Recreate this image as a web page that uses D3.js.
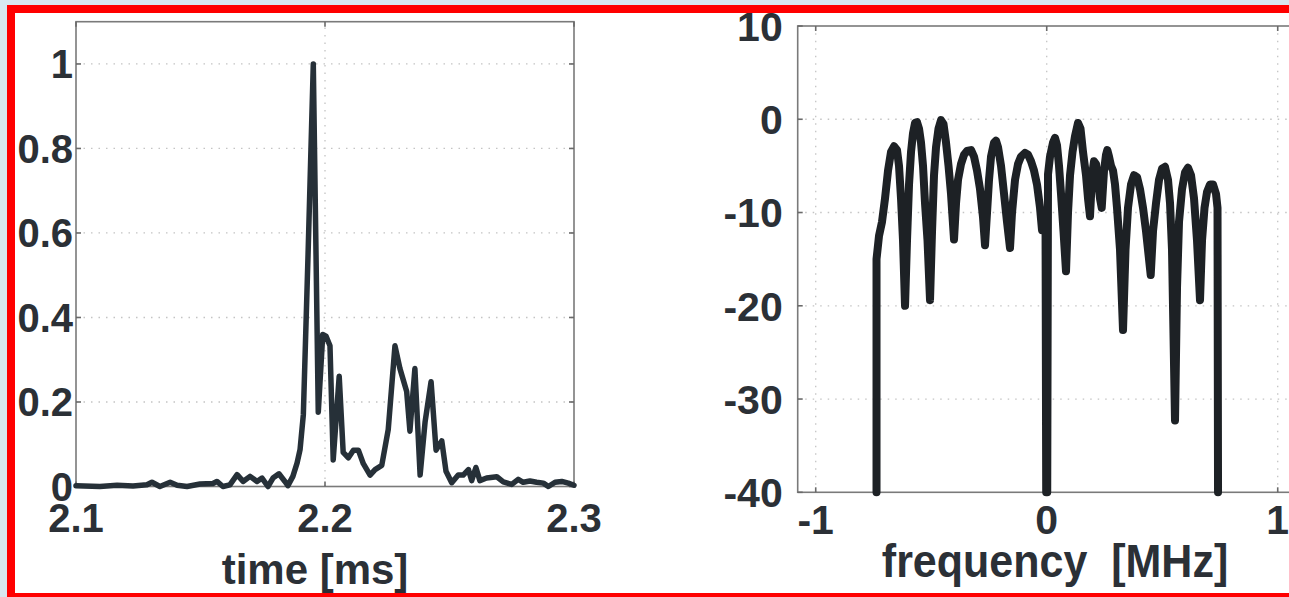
<!DOCTYPE html>
<html>
<head>
<meta charset="utf-8">
<script src="https://cdn.jsdelivr.net/npm/d3@7"></script>
<style>
  html, body { margin: 0; padding: 0; background: #d8e8f0; }
  svg { display: block; }
  text { font-family: "Liberation Sans", Arial, sans-serif; font-weight: bold; fill: #2b3036; }
</style>
</head>
<body>
<svg id="chart" width="1289" height="597"></svg>
<script>
// ---------- data ----------
const timeMs = [2.1000,2.1096,2.1165,2.1229,2.1285,2.1305,2.1337,2.1378,2.1406,2.1446,2.1498,2.1550,2.1566,2.1590,2.1618,2.1647,2.1671,2.1699,2.1727,2.1747,2.1771,2.1791,2.1815,2.1839,2.1851,2.1871,2.1888,2.1900,2.1913,2.1932,2.1953,2.1973,2.1991,2.2004,2.2020,2.2033,2.2057,2.2073,2.2094,2.2114,2.2134,2.2154,2.2181,2.2201,2.2228,2.2254,2.2281,2.2301,2.2328,2.2341,2.2361,2.2382,2.2402,2.2426,2.2446,2.2469,2.2486,2.2509,2.2535,2.2555,2.2576,2.2589,2.2606,2.2622,2.2649,2.2690,2.2716,2.2750,2.2776,2.2796,2.2823,2.2850,2.2877,2.2897,2.2924,2.2951,2.2977,2.3000];
const amplitude = [0.002,0.000,0.003,0.001,0.004,0.010,0.000,0.010,0.003,0.000,0.006,0.007,0.012,0.000,0.004,0.028,0.012,0.024,0.012,0.020,0.000,0.020,0.030,0.012,0.002,0.024,0.056,0.088,0.170,0.550,1.000,0.176,0.360,0.356,0.333,0.063,0.261,0.081,0.068,0.086,0.086,0.054,0.027,0.040,0.050,0.135,0.333,0.279,0.225,0.131,0.279,0.027,0.153,0.248,0.086,0.108,0.036,0.009,0.027,0.027,0.040,0.014,0.045,0.014,0.020,0.023,0.011,0.005,0.017,0.010,0.013,0.010,0.008,0.000,0.010,0.012,0.008,0.003];

const freqMHz = [
  -0.7368,-0.7368,-0.7260,-0.7130,-0.7000,-0.6870,-0.6740,-0.6610,-0.6481,-0.6394,-0.6307,-0.6221,-0.6134,
  -0.6048,-0.5961,-0.5874,-0.5788,-0.5701,-0.5615,-0.5528,-0.5442,-0.5355,-0.5268,-0.5160,-0.5052,
  -0.4965,-0.4879,-0.4792,-0.4684,-0.4576,-0.4468,-0.4359,-0.4251,-0.4143,-0.4013,
  -0.3926,-0.3840,-0.3710,-0.3580,-0.3450,-0.3277,-0.3147,-0.3017,-0.2887,-0.2758,-0.2671,
  -0.2584,-0.2498,-0.2411,-0.2281,-0.2195,-0.2108,-0.1978,-0.1848,-0.1719,-0.1589,
  -0.1502,-0.1372,-0.1242,-0.1113,-0.0939,-0.0810,-0.0680,-0.0550,-0.0420,-0.0290,-0.0203,-0.0052,
  -0.0022,0.0022,
  0.0056,0.0143,0.0273,0.0359,0.0446,0.0532,0.0619,0.0727,0.0835,
  0.0922,0.1009,0.1117,0.1225,0.1355,0.1463,0.1571,0.1701,0.1788,0.1874,
  0.1961,0.2048,0.2134,0.2221,0.2307,0.2381,
  0.2481,0.2567,0.2623,0.2697,0.2784,0.2870,0.2957,0.3043,0.3173,0.3303,
  0.3411,0.3519,0.3649,0.3779,0.3909,0.4039,0.4169,0.4299,0.4502,
  0.4602,0.4732,0.4861,0.4991,0.5121,0.5251,0.5338,0.5424,0.5554,
  0.5641,0.5727,0.5857,0.5987,0.6117,0.6247,0.6377,0.6506,0.6636,
  0.6723,0.6831,0.6939,0.7069,0.7199,0.7329,0.7394,0.7416];
const spectrumDb = [
  -40,-15,-12.5,-11,-8.5,-5.5,-3.5,-2.9,-3.3,-5,-8.5,-13,-20,
  -13,-7,-3.5,-1.5,-0.4,-0.3,-1,-2.5,-5,-9,-13,-19.4,
  -12,-6,-3,-1,-0.1,-0.5,-2.5,-5,-8,-12.9,
  -9,-6.5,-4.8,-3.8,-3.4,-3.3,-4,-5.5,-7.5,-10.5,-13.5,
  -10,-6.5,-4,-2.5,-2.3,-3,-5,-8,-11,-13.8,
  -10,-6.5,-4.8,-4,-3.6,-3.8,-4.5,-5.5,-7,-9.5,-11.9,-10,
  -40,-40,
  -5.9,-4,-2.5,-2,-2.8,-5,-8,-12,-16.3,
  -10,-6,-3.5,-1.8,-0.4,-1,-3.5,-6,-8.5,-10.4,
  -6,-4.5,-4.8,-6.5,-8.5,-9.5,
  -5.5,-3.8,-3.3,-4,-5,-5.5,-7,-9.5,-14,-22.6,
  -14,-9.5,-7,-6,-6.2,-7.5,-9.5,-12,-16.7,
  -12,-9,-6.5,-5.3,-5.1,-6.5,-9,-14,-32.3,
  -18,-11,-7.5,-5.7,-5.2,-6,-8.5,-13,-19.4,
  -13,-9.5,-7.8,-7,-7,-8,-9.5,-40];

const leftXTicks = [2.1, 2.2, 2.3];
const leftYTicks = [0, 0.2, 0.4, 0.6, 0.8, 1];
const rightXTicks = [-1, 0, 1];
const rightYTicks = [-40, -30, -20, -10, 0, 10];
const leftXLabel = "time [ms]";
const rightXLabel = "frequency\u00a0\u00a0[MHz]";

// ---------- layout ----------
const svg = d3.select("#chart");
svg.append("rect").attr("x", 11).attr("y", 9).attr("width", 1300).attr("height", 588)
  .attr("fill", "#ffffff").attr("stroke", "#ff0000").attr("stroke-width", 8);

function panel(cfg) {
  const g = svg.append("g");
  const x = d3.scaleLinear().domain(cfg.xDomain).range(cfg.xRange);
  const y = d3.scaleLinear().domain(cfg.yDomain).range(cfg.yRange);
  const [x0, x1] = cfg.xRange, [y0, y1] = cfg.yRange; // y0 bottom, y1 top

  // grid
  const grid = g.append("g").attr("stroke", "#c4c4c4").attr("stroke-width", 1.3)
    .attr("stroke-dasharray", "1.5,6").attr("fill", "none");
  cfg.xTicks.forEach(t => {
    const px = x(t);
    if (px > x0 + 2 && px < x1 - 2) grid.append("line").attr("x1", px).attr("x2", px).attr("y1", y0).attr("y2", y1);
  });
  cfg.yTicks.forEach(t => {
    const py = y(t);
    if (py < y0 - 2 && py > y1 + 2) grid.append("line").attr("x1", x0).attr("x2", x1).attr("y1", py).attr("y2", py);
  });

  // box
  g.append("rect").attr("x", x0).attr("y", y1).attr("width", x1 - x0).attr("height", y0 - y1)
    .attr("fill", "none").attr("stroke", "#7a7a7a").attr("stroke-width", 1.6);

  // inner ticks
  const tk = g.append("g").attr("stroke", "#6a6a6a").attr("stroke-width", 1.6);
  cfg.xTicks.forEach(t => {
    const px = x(t);
    tk.append("line").attr("x1", px).attr("x2", px).attr("y1", y0).attr("y2", y0 - 5);
    tk.append("line").attr("x1", px).attr("x2", px).attr("y1", y1).attr("y2", y1 + 5);
  });
  cfg.yTicks.forEach(t => {
    const py = y(t);
    tk.append("line").attr("x1", x0).attr("x2", x0 + 5).attr("y1", py).attr("y2", py);
    tk.append("line").attr("x1", x1).attr("x2", x1 - 5).attr("y1", py).attr("y2", py);
  });

  // data line
  const line = d3.line().x(d => x(d[0])).y(d => y(d[1]));
  g.append("path").datum(d3.zip(cfg.xs, cfg.ys)).attr("d", line)
    .attr("fill", "none").attr("stroke", cfg.lineColor).attr("stroke-width", cfg.lineWidth)
    .attr("stroke-linejoin", "round").attr("stroke-linecap", "round");

  // tick labels
  cfg.yTicks.forEach(t => {
    g.append("text").attr("x", x0 - cfg.yLabelGap).attr("y", y(t)).attr("dy", "0.36em")
      .attr("text-anchor", "end").attr("font-size", cfg.tickFont).text(cfg.yFmt(t));
  });
  cfg.xTicks.forEach(t => {
    g.append("text").attr("x", x(t)).attr("y", cfg.xLabelBaseline)
      .attr("text-anchor", "middle").attr("font-size", cfg.tickFont).text(cfg.xFmt(t));
  });
  // axis label
  g.append("text")
    .attr("transform", `translate(${cfg.labelX},${cfg.labelY}) scale(1,${cfg.labelStretch})`)
    .attr("text-anchor", "middle").attr("font-size", cfg.labelFont).text(cfg.label);
}

panel({
  xDomain: [2.1, 2.3], xRange: [76, 574],
  yDomain: [0, 1.1], yRange: [486.5, 21.7],
  xTicks: leftXTicks, yTicks: leftYTicks,
  xs: timeMs, ys: amplitude,
  lineColor: "#263038", lineWidth: 5.5,
  yLabelGap: 3, tickFont: 40, xLabelBaseline: 532,
  yFmt: d => String(d), xFmt: d => d.toFixed(1),
  label: leftXLabel, labelX: 315, labelY: 584, labelFont: 42, labelStretch: 1.0
});

panel({
  xDomain: [-1.078, 1.078], xRange: [797.7, 797.7 + 2.156 * 231],
  yDomain: [-40, 10], yRange: [492.3, 26],
  xTicks: rightXTicks, yTicks: rightYTicks,
  xs: freqMHz, ys: spectrumDb,
  lineColor: "#1d2125", lineWidth: 8,
  yLabelGap: 15, tickFont: 41, xLabelBaseline: 534,
  yFmt: d => String(d), xFmt: d => String(d),
  label: rightXLabel, labelX: 1055, labelY: 577, labelFont: 43, labelStretch: 1.08
});
</script>
</body>
</html>
